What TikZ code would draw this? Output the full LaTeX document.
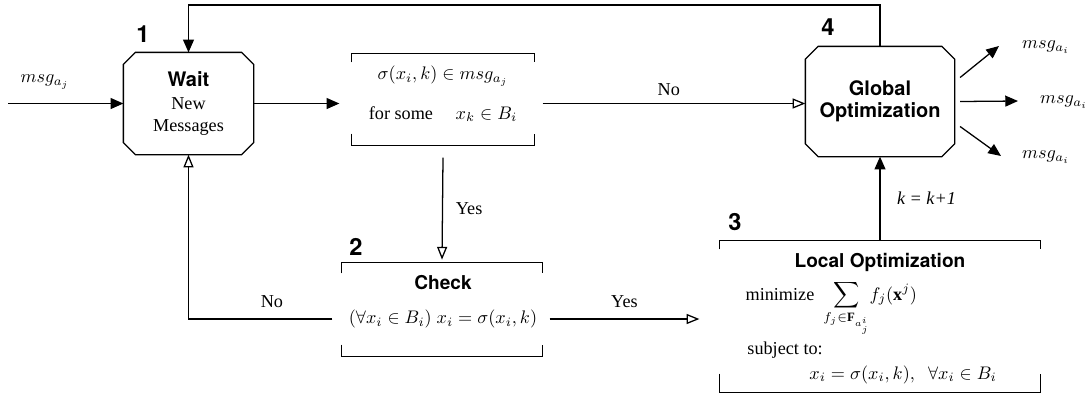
\documentclass[tikz,border=0pt]{standalone}
\usepackage{fontspec}
\setmainfont{Liberation Serif}
\newfontfamily\tmfont{Liberation Serif}
\newfontfamily\hvfont{TeX Gyre Heros}
\usetikzlibrary{arrows.meta}
\newcommand\myocto[2]{%
  \draw ([xshift=#2]#1.north west) -- ([xshift=-#2]#1.north east) -- ([yshift=-#2]#1.north east)
    -- ([yshift=#2]#1.south east) -- ([xshift=-#2]#1.south east) -- ([xshift=#2]#1.south west)
    -- ([yshift=#2]#1.south west) -- ([yshift=-#2]#1.north west) -- cycle;}
\begin{document}
\begin{tikzpicture}[x=0.55pt,y=-0.55pt, line width=0.7pt,
  oct/.style={inner sep=0pt, align=center},
  brk/.style={inner sep=0pt},
  hd/.style={font=\hvfont\bfseries\fontsize{10.5}{12.5}\selectfont},
  num/.style={font=\hvfont\bfseries\fontsize{13}{13}\selectfont, inner sep=0pt},
  lbl/.style={font=\tmfont\fontsize{10}{12}\selectfont, inner sep=1pt},
  fa/.style={-{Triangle[length=7pt,width=6pt]}},
  oa/.style={-{Triangle[open,length=7pt,width=5.5pt]}}]
\useasboundingbox (0,0) rectangle (1086,396);

% main nodes
\node[oct, minimum width=70.95pt, minimum height=55.55pt] (wait) at (188.5,103.5)
  {{\hvfont\bfseries\fontsize{11}{12}\selectfont Wait}\\[1pt]\tmfont\fontsize{10}{12}\selectfont New\\\tmfont\fontsize{10}{12}\selectfont Messages};
\myocto{wait}{6.6pt}
\node[oct, minimum width=81.4pt, minimum height=59.95pt] (glob) at (880,101.5)
  {\hvfont\bfseries\fontsize{11}{12.7}\selectfont Global\\\hvfont\bfseries\fontsize{11}{12.7}\selectfont Optimization};
\myocto{glob}{7pt}
\node[brk, minimum width=100.1pt, minimum height=50.05pt] (q1) at (443,99.5) {};
\node[brk, minimum width=110pt, minimum height=51.15pt] (chk) at (442,309.5) {};
\node[brk, minimum width=176pt, minimum height=83.05pt] (loc) at (880,316.5) {};

% brackets
\draw (q1.north west) ++(0,9) -- (q1.north west) -- (q1.north east) -- ++(0,9);
\draw (q1.south west) ++(0,-12) -- (q1.south west) -- (q1.south east) -- ++(0,-12);
\draw (chk.north west) ++(0,11) -- (chk.north west) -- (chk.north east) -- ++(0,11);
\draw (chk.south west) ++(0,-12) -- (chk.south west) -- (chk.south east) -- ++(0,-12);
\draw (loc.north west) ++(0,9) -- (loc.north west) -- (loc.north east) -- ++(0,9);
\draw (loc.south west) ++(0,-19) -- (loc.south west) -- (loc.south east) -- ++(0,-19);

% texts in boxes
\node[lbl] (q1a) at (443,76) {$\sigma(x_i,k)\in msg_{a_j}$};
\node[lbl] (q1b) at (443,114) {for some\quad\ $x_k\in B_i$};
\node[hd, inner sep=0pt] (chkt) at (443,283) {Check};
\node[lbl] (chkf) at (443,319) {$(\forall x_i\in B_i)\;x_i=\sigma(x_i,k)$};
\node[hd, inner sep=0pt] (loct) at (880,262) {Local Optimization};
\node[lbl, anchor=base west, inner sep=0pt] (locm) at (745,300)
  {minimize\enspace$\displaystyle\smash{\sum_{f_j\in\mathbf{F}_{a^i_j}}} f_j(\mathbf{x}^j)$};
\node[lbl, anchor=base west] (locs) at (745,354) {subject to:};
\node[lbl, anchor=base] (locc) at (903,379) {$x_i=\sigma(x_i,k),\;\;\forall x_i\in B_i$};

% numbers
\node[num] (n1) at (143,34) {1};
\node[num] (n2) at (356,247) {2};
\node[num] (n3) at (735,222) {3};
\node[num] (n4) at (828,27) {4};

% connectors
\coordinate (in) at (8,103.5);
\draw[fa] (in) -- (wait.west);
\node[lbl] (lin) at (45,82) {$msg_{a_j}$};
\draw[fa] (wait.east) -- ([xshift=-6.6pt]q1.west |- wait.east);
\draw[oa] ([xshift=4.4pt]q1.east |- wait.east) -- (glob.west |- wait.east)
  node[lbl, pos=0.48, above=3pt] (lno1) {No};
\draw[oa] ([yshift=-6.6pt]q1.south) -- ([yshift=1.5pt]chk.north)
  node[lbl, midway, right=6pt] (lyes1) {Yes};
\draw[oa] ([xshift=-5pt]chk.west |- chkf) -| (wait.south)
  node[lbl, pos=0.21, above=5pt] (lno2) {No};
\draw[oa] ([xshift=3.8pt]chk.east |- chkf) -- ([xshift=-11pt]loc.west |- chkf)
  node[lbl, midway, above=5pt] (lyes2) {Yes};
\draw[fa] (loc.north -| glob.south) -- (glob.south)
  node[lbl, midway, right=8pt] (lk) {\textit{k = k+1}};
\coordinate (top) at (879,5);
\draw[fa] (glob.north) |- (top) -| (wait.north);

% outputs
\coordinate (o1) at (999,46);
\coordinate (o2) at (1018,101);
\coordinate (o3) at (1001,156);
\draw[fa] ([xshift=3pt]glob.east) ++(0,-24) -- (o1);
\draw[fa] ([xshift=3pt]glob.east) -- (o2);
\draw[fa] ([xshift=3pt]glob.east) ++(0,25) -- (o3);
\node[lbl] (m1) at (1046,47) {$msg_{a_i}$};
\node[lbl] (m2) at (1064,102) {$msg_{a_i}$};
\node[lbl] (m3) at (1046,157) {$msg_{a_i}$};
\end{tikzpicture}
\end{document}
